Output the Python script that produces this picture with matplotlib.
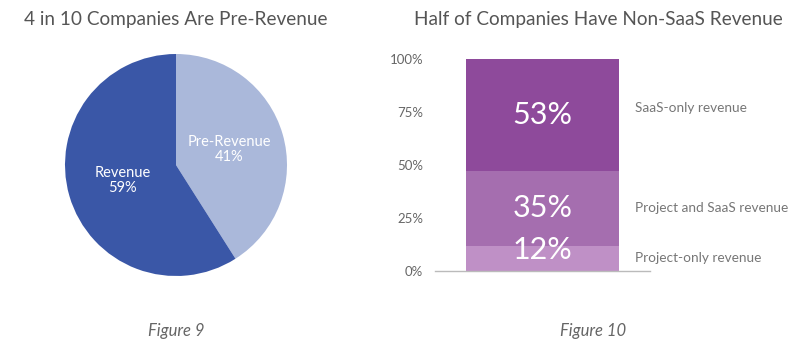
import matplotlib
matplotlib.use("Agg")
import matplotlib.pyplot as plt
import numpy as np

plt.rcParams['font.family'] = ['Lato', 'DejaVu Sans']

# Pie data
pie_labels = ["Pre-Revenue", "Revenue"]
pie_values = [41, 59]
pie_colors = ["#AAB8DA", "#3A57A7"]

# Stacked bar data (bottom to top)
bar_labels = ["Project-only revenue", "Project and SaaS revenue", "SaaS-only revenue"]
bar_values = [12, 35, 53]
bar_colors = ["#BF90C6", "#A56EAF", "#8E4A9B"]
yticks = [0, 25, 50, 75, 100]
ytick_labels = ["0%", "25%", "50%", "75%", "100%"]

W, H = 800, 348
fig = plt.figure(figsize=(8, 3.48), dpi=100)
fig.patch.set_facecolor("white")

title_color = "#555555"
fig.text(176 / W, 1 - 19 / H, "4 in 10 Companies Are Pre-Revenue", ha="center", va="center",
         fontsize=13.7, color=title_color)
fig.text(598 / W, 1 - 19 / H, "Half of Companies Have Non-SaaS Revenue", ha="center", va="center",
         fontsize=13.7, color=title_color)
fig.text(176 / W, 1 - 331 / H, "Figure 9", ha="center", va="center", fontsize=12,
         style="italic", color="#666666")
fig.text(593 / W, 1 - 331 / H, "Figure 10", ha="center", va="center", fontsize=12,
         style="italic", color="#666666")

# Pie
cx, cy, r = 176, 165, 111
ax1 = fig.add_axes([(cx - r) / W, (H - cy - r) / H, 2 * r / W, 2 * r / H])
wedges, _ = ax1.pie(pie_values, colors=pie_colors, startangle=90, counterclock=False,
                    radius=1, wedgeprops=dict(linewidth=0))
ax1.set_xlim(-1, 1)
ax1.set_ylim(-1, 1)
ax1.set_aspect("equal")
for w, lab, v in zip(wedges, pie_labels, pie_values):
    ang = np.deg2rad((w.theta1 + w.theta2) / 2)
    ax1.text(0.5 * np.cos(ang), 0.5 * np.sin(ang), f"{lab}\n{v}%", ha="center", va="center",
             fontsize=10.5, color="white", linespacing=1.15)

# Stacked bar
ax2 = fig.add_axes([435 / W, (H - 271) / H, 215 / W, 212 / H])
bottom = 0
for i, (lab, v, c) in enumerate(zip(bar_labels, bar_values, bar_colors)):
    ax2.bar(0.5, v, width=153 / 215, bottom=bottom, color=c, linewidth=0)
    mid = bottom + v / 2
    offs = 6 if v < 20 else 0
    ax2.annotate(f"{v}%", (0.5, mid), xytext=(0, offs), textcoords="offset points",
                 ha="center", va="center", fontsize=22, color="white")
    loffs = 5 if v > 50 else 0
    ax2.annotate(lab, (1.0, mid), xytext=(-11, loffs), textcoords="offset points",
                 ha="left", va="center", fontsize=9.8, color="#777777",
                 xycoords=("axes fraction", "data"))
    bottom += v

ax2.set_xlim(0, 1)
ax2.set_ylim(0, 100)
ax2.set_yticks(yticks)
ax2.set_yticklabels(ytick_labels)
ax2.tick_params(axis="y", length=0, pad=8.5, labelsize=9.5, labelcolor="#666666")
ax2.set_xticks([])
for s in ["top", "right", "left"]:
    ax2.spines[s].set_visible(False)
ax2.spines["bottom"].set_color("#BBBBBB")
ax2.spines["bottom"].set_linewidth(1)
ax2.set_facecolor("none")

fig.savefig("out.png", dpi=100, facecolor="white")
